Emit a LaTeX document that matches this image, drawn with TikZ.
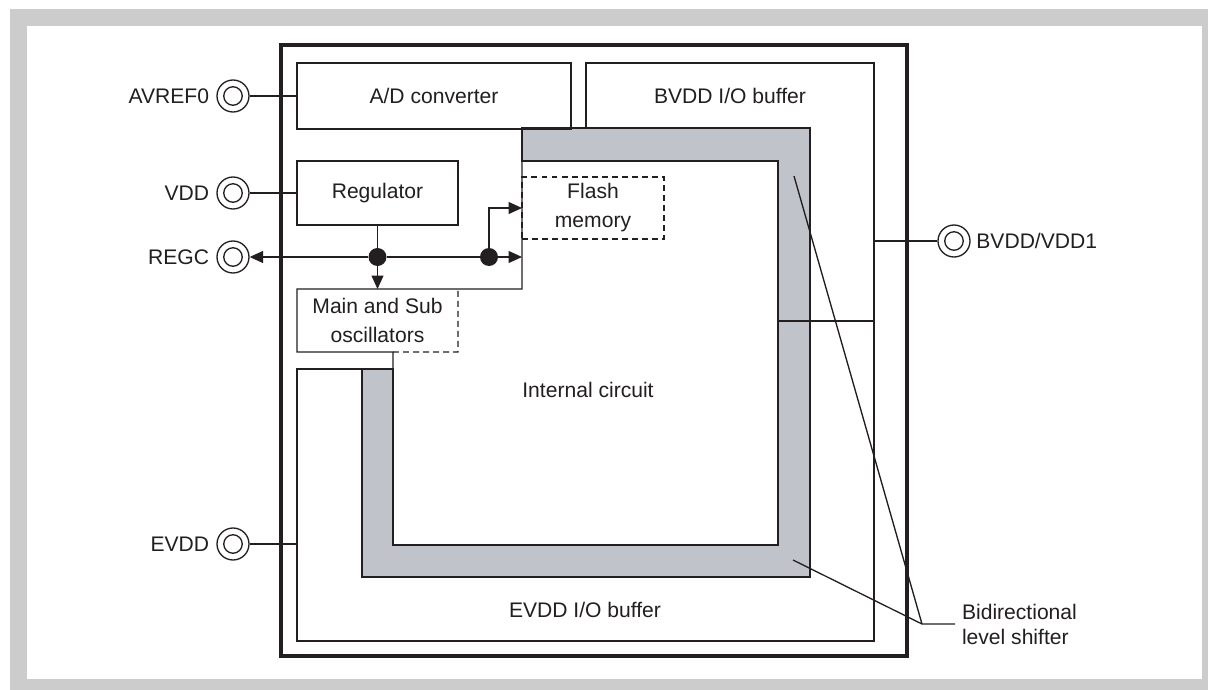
\documentclass[tikz,border=0pt]{standalone}
\usepackage{fontspec}
\setmainfont{Liberation Sans}
\usepackage{tikz}
\usetikzlibrary{arrows.meta, positioning, calc}
\usepackage{xcolor}
\definecolor{cFrame}{RGB}{204,204,204}
\definecolor{cShift}{RGB}{192,195,202}
\definecolor{cInk}{RGB}{35,31,32}
\tikzset{
  wire/.style={draw=cInk, line width=0.75pt},
  dashwire/.style={wire, dash pattern=on 3.4pt off 2.3pt},
  chipline/.style={draw=cInk, line width=1.8pt},
  arrow/.style={wire, -{Triangle[length=0.27cm, width=0.24cm]}},
  labeltext/.style={inner sep=0pt, outer sep=0pt, align=center, text=cInk,
                    font=\fontsize{12}{16.5}\selectfont},
  blockbox/.style={rectangle, wire, labeltext, minimum width=3.22cm},
  dashbox/.style={blockbox, dash pattern=on 3.4pt off 2.3pt},
  padnode/.style={circle, wire, minimum size=0.64cm, inner sep=0pt,
                  path picture={\draw[cInk, line width=0.75pt]
                    (path picture bounding box.center) circle (0.185cm);}},
  padlabel/.style={labeltext, inner sep=1pt},
  dotnode/.style={circle, fill=cInk, minimum size=0.36cm, inner sep=0pt},
  calltext/.style={labeltext, align=left, inner sep=4pt,
                   font=\fontsize{12}{14.2}\selectfont}
}
\begin{document}
\begin{tikzpicture}[x=0.02cm, y=-0.02cm]
  \useasboundingbox (0,0) rectangle (1208,690);

  % Frame
  \fill[cFrame] (10,9) rectangle (1208,690);
  \fill[white] (27,26) rectangle (1202,679);

  % Chip outline
  \draw[chipline] (281,45) rectangle (907,656);

  % Level shifter
  \draw[wire, fill=cShift] (522,128) -- (810,128) -- (810,577) -- (362,577)
      -- (362,369) -- (393,369) -- (393,545) -- (778,545) -- (778,161)
      -- (522,161) -- cycle;

  % I/O buffers
  \draw[wire] (586,128) -- (586,63) -- (874,63) -- (874,641) -- (297,641)
      -- (297,369) -- (362,369);
  \draw[wire] (778,321) -- (874,321);
  \node[labeltext] (bvddbuf) at (730,96) {BVDD I/O buffer};
  \node[labeltext] (evddbuf) at (585,610) {EVDD I/O buffer};

  % Blocks
  \node[blockbox, minimum width=5.48cm, minimum height=1.32cm] (adc)
      at (434,96) {A/D converter};
  \node[blockbox, minimum height=1.28cm] (reg) at (377.5,193) {Regulator};
  \node[dashbox, minimum width=2.84cm, minimum height=1.24cm] (flash)
      at (593,208) {Flash\\memory};
  \node[labeltext, minimum width=3.22cm, minimum height=1.26cm] (osc)
      at (377.5,320.5) {Main and Sub\\oscillators};
  \draw[dashwire] (393,352) -- (osc.south east) -- (osc.north east);
  \draw[wire] (393,369) -- (393,352) -- (osc.south west) -- (osc.north west)
      -- (522,289) -- (522,161);
  \node[labeltext] (core) at (588,390) {Internal circuit};

  % Pads
  \node[padnode] (avref) at (233,96) {};
  \node[padlabel, left=0.11cm of avref] (avreflbl) {AVREF0};
  \node[padnode] (vdd) at (233,193) {};
  \node[padlabel, left=0.11cm of vdd] (vddlbl) {VDD};
  \node[padnode] (regc) at (233,257) {};
  \node[padlabel, left=0.11cm of regc] (regclbl) {REGC};
  \node[padnode] (evdd) at (233,544) {};
  \node[padlabel, left=0.11cm of evdd] (evddlbl) {EVDD};
  \node[padnode] (bvdd) at (954,241) {};
  \node[padlabel, right=0.08cm of bvdd] (bvddlbl) {BVDD/VDD1};

  % Supply wires
  \coordinate (evddin) at (297,544);
  \coordinate (bvddin) at (874,241);
  \draw[wire] (avref) -- (adc);
  \draw[wire] (vdd) -- (reg);
  \draw[wire] (evdd) -- (evddin);
  \draw[wire] (bvddin) -- (bvdd);

  % Regulator outputs
  \node[dotnode] (j1) at (377.5,257) {};
  \node[dotnode] (j2) at (489,257) {};
  \coordinate (busend) at (522,257);
  \draw[wire] (reg) -- (j1);
  \draw[arrow] (j1) -- (osc);
  \draw[arrow] (j1) -- (regc);
  \draw[wire] (j1) -- (j2);
  \draw[arrow] (j2) -- (busend);
  \draw[arrow] (j2) |- (flash.west);

  % Level shifter callout
  \coordinate (lsa) at (794,176);
  \coordinate (lsb) at (793,560);
  \coordinate (call) at (922,624);
  \node[calltext, anchor=west] (lvl) at (955,624) {Bidirectional\\level shifter};
  \draw[wire] (lvl.west) -- (call) -- (lsa) (call) -- (lsb);

\end{tikzpicture}
\end{document}
